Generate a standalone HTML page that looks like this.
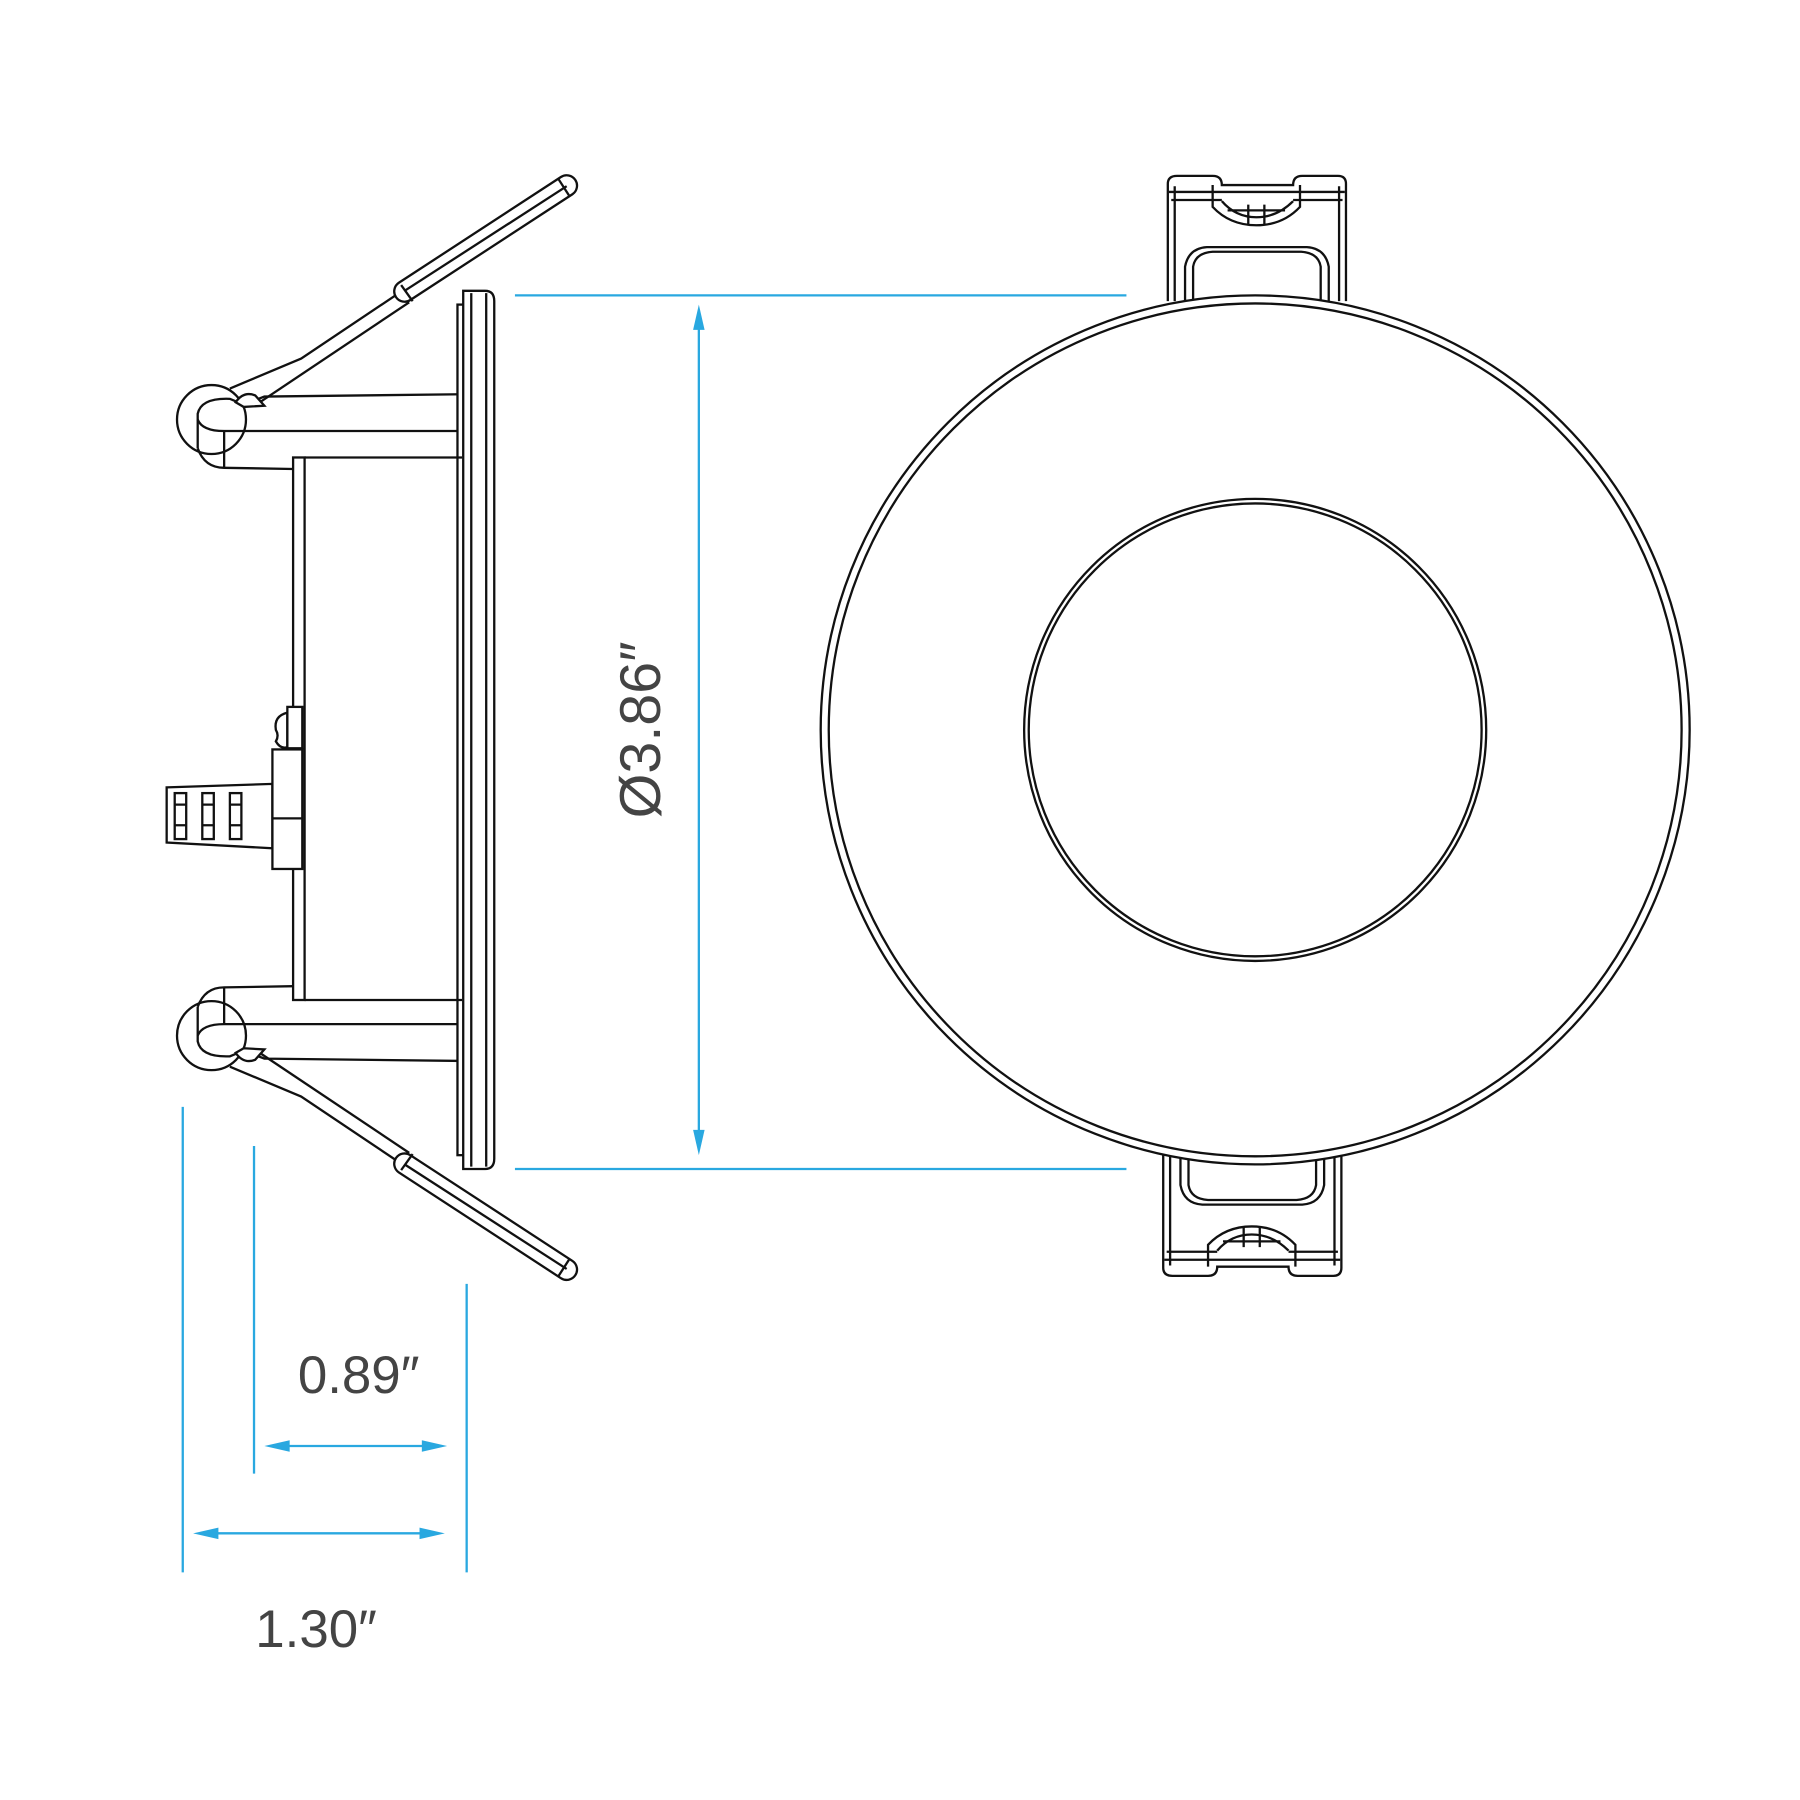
<!DOCTYPE html>
<html><head><meta charset="utf-8"><style>html,body{margin:0;padding:0;background:#fff}svg{display:block}</style></head>
<body>
<svg width="1800" height="1800" viewBox="0 0 1566 1566" xmlns="http://www.w3.org/2000/svg">
<defs>
<g id="arm" fill="none" stroke="#111" stroke-width="2">
  <circle cx="184" cy="365" r="30" fill="#fff"/>
  <path d="M200 338 L262 312 L350 253"/>
  <path d="M226 350 L356 263"/>
  <path d="M347 246 L488 154 A9 9 0 0 1 498 169 L357 261 A9 9 0 0 1 347 246 Z" fill="#fff"/>
  <line x1="349" y1="248" x2="359" y2="262"/>
  <line x1="486" y1="156" x2="495" y2="170"/>
  <line x1="352" y1="253" x2="493" y2="162"/>
  <path d="M172 390 L172 360 Q175 346 200 347 L212 352 L230 345 L402 343"/>
  <path d="M172 365 Q176 375 195 375 L402 375"/>
  <line x1="195" y1="375" x2="195" y2="407"/>
  <path d="M172 390 Q178 407 195 407 L255 408"/>
  <path d="M205 350 Q212 340 222 344 L230 353 L212 354 Z" fill="#fff"/>
</g>
<g id="clip" fill="#fff" stroke="#111" stroke-width="2">
  <path d="M1016 262 L1016 160 Q1016 153 1024 153 L1055 153 Q1063 153 1063 161 L1125 161 Q1125 153 1133 153 L1164 153 Q1171 153 1171 160 L1171 262"/>
  <path d="M1022 262 L1022 162"/>
  <path d="M1165 262 L1165 162"/>
  <path d="M1017 167 L1170 167" fill="none"/>
  <path d="M1019 174 L1063 174 M1125 174 L1168 174" fill="none"/>
  <path d="M1055 161 L1055 180 Q1070 196 1093 196 Q1116 196 1131 180 L1131 161" fill="none"/>
  <path d="M1063 175 Q1075 189 1093 189 Q1111 189 1125 175" fill="none"/>
  <path d="M1086 178 L1086 196 M1100 178 L1100 196 M1068 183 L1118 183" fill="none"/>
  <path d="M1031 262 L1031 232 Q1034 216 1050 215 L1137 215 Q1153 216 1156 232 L1156 262"/>
  <path d="M1038 262 L1038 232 Q1040 220 1055 219 L1132 219 Q1147 220 1149 232 L1149 262" fill="none"/>
</g>
</defs>

<use href="#clip"/>
<g transform="translate(-4,1263) scale(1,-1)"><use href="#clip"/></g>

<g fill="none" stroke="#111" stroke-width="2">
  <circle cx="1092" cy="635" r="378" fill="#fff"/>
  <circle cx="1092" cy="635" r="371"/>
  <circle cx="1092" cy="635" r="201"/>
  <circle cx="1092" cy="635" r="197"/>
</g>

<use href="#arm"/>
<g transform="translate(0,1266) scale(1,-1)"><use href="#arm"/></g>
<g fill="#fff" stroke="#111" stroke-width="2">
  <rect x="398" y="265" width="6" height="740"/>
  <path d="M403 253 L422 253 Q430 253 430 262 L430 1008 Q430 1017 422 1017 L403 1017 Z"/>
  <line x1="410" y1="255" x2="410" y2="1015"/>
  <line x1="423" y1="255" x2="423" y2="1015"/>
  <rect x="255" y="398" width="10" height="472"/>
  <path d="M265 398 L402 398 M265 870 L402 870" fill="none"/>
  <path d="M250 620 Q238 623 240 635 Q243 640 240 645 Q244 652 250 650 Z"/>
  <rect x="250" y="615" width="13" height="36"/>
  <path d="M145 685 L237 682 L237 738 L145 733 Z"/>
  <rect x="237" y="652" width="26" height="104"/>
  <line x1="237" y1="712" x2="263" y2="712"/>
  <rect x="152" y="690" width="10" height="40"/>
  <rect x="176" y="690" width="10" height="40"/>
  <rect x="200" y="690" width="10" height="40"/>
  <path d="M152 700 H162 M152 718 H162 M176 700 H186 M176 718 H186 M200 700 H210 M200 718 H210" fill="none"/>
</g>

<g stroke="#29a8e0" stroke-width="2" fill="none">
  <line x1="448" y1="257" x2="980" y2="257"/>
  <line x1="448" y1="1017" x2="980" y2="1017"/>
  <line x1="608" y1="272" x2="608" y2="998"/>
  <line x1="159" y1="963" x2="159" y2="1368"/>
  <line x1="221" y1="997" x2="221" y2="1282"/>
  <line x1="406" y1="1117" x2="406" y2="1368"/>
  <line x1="240" y1="1258" x2="380" y2="1258"/>
  <line x1="178" y1="1334" x2="378" y2="1334"/>
</g>
<g fill="#29a8e0">
  <path d="M608 265 L603 287 L613 287Z"/>
  <path d="M608 1005 L603 983 L613 983Z"/>
  <path d="M230 1258 L252 1253 L252 1263Z"/>
  <path d="M389 1258 L367 1253 L367 1263Z"/>
  <path d="M168 1334 L190 1329 L190 1339Z"/>
  <path d="M387 1334 L365 1329 L365 1339Z"/>
</g>
<g font-family="Liberation Sans, sans-serif" fill="#444" font-size="46">
  <text x="0" y="0" text-anchor="middle" transform="translate(574,635) rotate(-90)" font-size="50">Ø3.86″</text>
  <text x="312" y="1212" text-anchor="middle">0.89″</text>
  <text x="275" y="1433" text-anchor="middle">1.30″</text>
</g>
</svg>
</body></html>
